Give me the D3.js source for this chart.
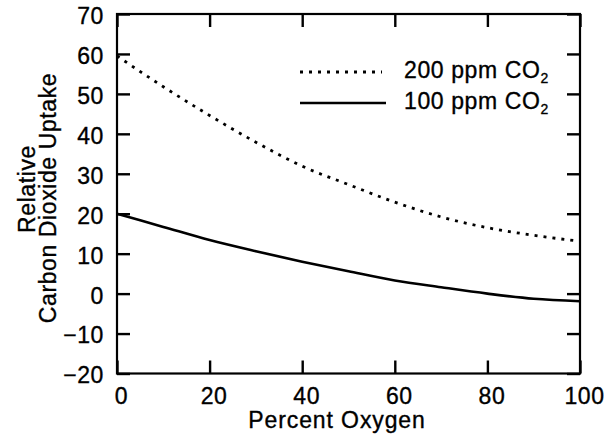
<!DOCTYPE html>
<html>
<head>
<meta charset="utf-8">
<script src="https://cdn.jsdelivr.net/npm/d3@7"></script>
<style>
  html, body { margin: 0; padding: 0; background: #fff; }
  svg { display: block; }
  text { font-family: "Liberation Sans", Arial, Helvetica, sans-serif; fill: #000; stroke: #000; stroke-width: 0.35px; }
</style>
</head>
<body>
<svg id="chart" width="605" height="441"></svg>
<script>
// ---- data ----
const oxygen = [0, 10, 20, 30, 40, 50, 60, 70, 80, 90, 100];
const uptake200 = [59.5, 51.8, 44.6, 37.9, 31.9, 27.3, 22.9, 19.2, 16.5, 14.6, 13.1];
const uptake100 = [20.0, 16.7, 13.4, 10.6, 8.0, 5.6, 3.3, 1.6, 0.0, -1.3, -1.9];
const seriesNames = ["200 ppm CO", "100 ppm CO"];
const seriesSub = ["2", "2"];
const xTicks = [0, 20, 40, 60, 80, 100];
const xTickLabels = ["0", "20", "40", "60", "80", "100"];
const yTicks = [70, 60, 50, 40, 30, 20, 10, 0, -10, -20];
const yTickLabels = ["70", "60", "50", "40", "30", "20", "10", "0", "\u221210", "\u221220"];
const xTitle = "Percent Oxygen";
const yTitle = ["Relative", "Carbon Dioxide Uptake"];

// ---- layout ----
const L = 117, R = 580, T = 14, B = 373.5;
const svg = d3.select("#chart");
const x = d3.scaleLinear().domain([0, 100]).range([L, R]);
const y = d3.scaleLinear().domain([-20, 70]).range([B, T]);
const FS = 23, LS = "0.6px";

// axes with inward ticks
const tick = 13;
const gLeft = svg.append("g").attr("transform", `translate(${L},0)`)
  .call(d3.axisLeft(y).tickValues(yTicks).tickSize(-tick).tickPadding(13)
    .tickFormat((d, i) => yTickLabels[i]));
const gRight = svg.append("g").attr("transform", `translate(${R},0)`)
  .call(d3.axisRight(y).tickValues(yTicks).tickSize(-tick).tickFormat(""));
const gTop = svg.append("g").attr("transform", `translate(0,${T})`)
  .call(d3.axisTop(x).tickValues(xTicks).tickSize(-tick).tickFormat(""));
const gBottom = svg.append("g").attr("transform", `translate(0,${B})`)
  .call(d3.axisBottom(x).tickValues(xTicks).tickSize(-tick).tickPadding(14)
    .tickFormat((d, i) => xTickLabels[i]));

[gLeft, gRight, gTop, gBottom].forEach(g => {
  g.select(".domain").remove();
  g.selectAll(".tick line").attr("stroke", "#000").attr("stroke-width", 2.4);
  g.selectAll(".tick text").attr("font-size", FS).attr("letter-spacing", LS)
    .attr("font-family", "Liberation Sans, Arial, sans-serif").attr("fill", "#000");
});
gLeft.selectAll(".tick text").attr("dy", "0.41em");
gBottom.selectAll(".tick text").attr("dx", 4).attr("dy", "0.71em");

// frame
svg.append("rect")
  .attr("x", L).attr("y", T).attr("width", R - L).attr("height", B - T)
  .attr("fill", "none").attr("stroke", "#000").attr("stroke-width", 2.2);

// curves
const line = d3.line().x((d, i) => x(oxygen[i])).y(d => y(d)).curve(d3.curveMonotoneX);
svg.append("path").datum(uptake200)
  .attr("d", line).attr("fill", "none").attr("stroke", "#000")
  .attr("stroke-width", 2.8).attr("stroke-dasharray", "3,6");
svg.append("path").datum(uptake100)
  .attr("d", line).attr("fill", "none").attr("stroke", "#000")
  .attr("stroke-width", 2.6);

// legend
const legY = [72, 103];
const legend = svg.append("g");
legend.append("line").attr("x1", 300).attr("x2", 382).attr("y1", legY[0]).attr("y2", legY[0])
  .attr("stroke", "#000").attr("stroke-width", 2.8).attr("stroke-dasharray", "3,6");
legend.append("line").attr("x1", 300).attr("x2", 386).attr("y1", legY[1]).attr("y2", legY[1])
  .attr("stroke", "#000").attr("stroke-width", 2.6);
seriesNames.forEach((name, i) => {
  const t = legend.append("text").attr("x", 404).attr("y", legY[i] + 6)
    .attr("font-size", FS).attr("letter-spacing", LS).text(name);
  t.append("tspan").attr("font-size", 14).attr("dy", 5).text(seriesSub[i]);
});

// axis titles
svg.append("text").attr("x", 337).attr("y", 428).attr("text-anchor", "middle")
  .attr("font-size", FS).attr("letter-spacing", "0.9px").text(xTitle);
svg.append("text").attr("transform", "translate(35,189) rotate(-90)").attr("text-anchor", "middle")
  .attr("font-size", FS).attr("letter-spacing", LS).text(yTitle[0]);
svg.append("text").attr("transform", "translate(56,198) rotate(-90)").attr("text-anchor", "middle")
  .attr("font-size", FS).attr("letter-spacing", LS).text(yTitle[1]);
</script>
</body>
</html>
